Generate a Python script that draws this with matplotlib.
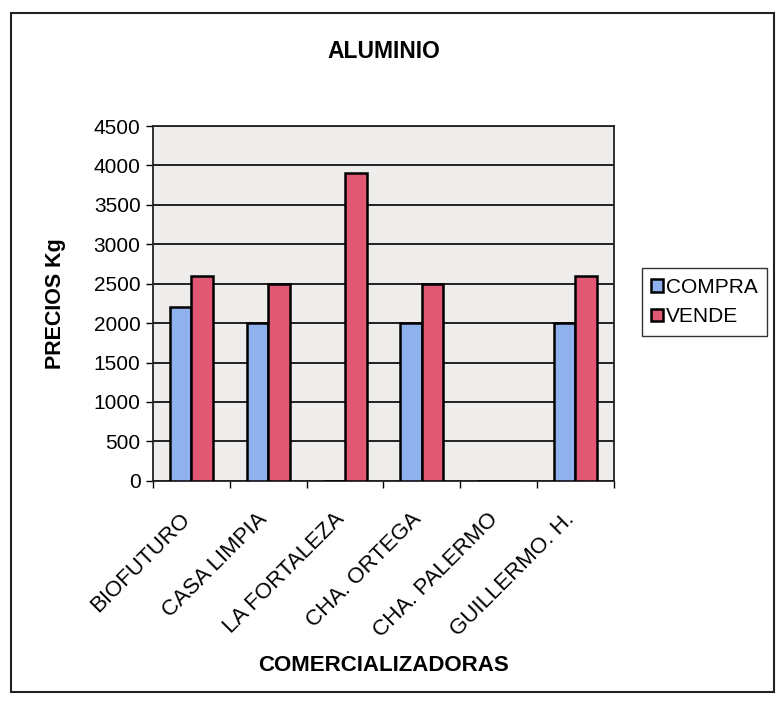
import matplotlib.pyplot as plt
import numpy as np
from matplotlib.patches import Rectangle

categories = ["BIOFUTURO", "CASA LIMPIA", "LA FORTALEZA", "CHA. ORTEGA", "CHA. PALERMO", "GUILLERMO. H."]
compra = [2200, 2000, 0, 2000, 0, 2000]
vende = [2600, 2500, 3900, 2500, 0, 2600]
yticks = [0, 500, 1000, 1500, 2000, 2500, 3000, 3500, 4000, 4500]

plt.rcParams['font.family'] = ['Liberation Sans', 'DejaVu Sans']

fig = plt.figure(figsize=(7.77, 7.04), dpi=100)
fig.patch.set_facecolor('white')
# outer chart border
fig.patches.append(Rectangle((0.014, 0.017), 0.982, 0.965, transform=fig.transFigure,
                             fill=False, edgecolor='#222222', linewidth=1.5))

ax = fig.add_axes([0.197, 0.317, 0.593, 0.504])
ax.set_facecolor('#efedec')

x = np.arange(len(categories))
w = 0.28
ax.bar(x - w / 2, compra, w, color='#8fb2ee', edgecolor='black', linewidth=1.8,
       label='COMPRA', zorder=3)
ax.bar(x + w / 2, vende, w, color='#e05874', edgecolor='black', linewidth=1.8,
       label='VENDE', zorder=3)

ax.set_xlim(-0.5, len(categories) - 0.5)
ax.set_ylim(0, 4500)
ax.set_yticks(yticks)
ax.yaxis.grid(True, color='#111111', linewidth=1.3, zorder=1)
ax.set_axisbelow(True)
ax.tick_params(axis='y', labelsize=15, length=5, width=1, pad=4)

# labels sit a little left of the group centre, like the Excel original
ax.set_xticks(x - 0.15)
ax.set_xticklabels(categories, rotation=45, ha='right', va='top',
                   rotation_mode='anchor', fontsize=16)
ax.set_xticks(np.arange(len(categories) + 1) - 0.5, minor=True)
ax.tick_params(axis='x', which='major', length=0, pad=20)
ax.tick_params(axis='x', which='minor', length=5, width=1)

for s in ax.spines.values():
    s.set_linewidth(1.3)
    s.set_color('#222222')

ax.set_title('ALUMINIO', fontsize=16.5, fontweight='bold', pad=49)
ax.set_ylabel('PRECIOS Kg', fontsize=15.5, fontweight='bold', labelpad=20)
ax.set_xlabel('COMERCIALIZADORAS', fontsize=16, fontweight='bold', labelpad=10)

leg = ax.legend(loc='center left', bbox_to_anchor=(1.061, 0.504), fontsize=15,
                frameon=True, fancybox=False, edgecolor='black',
                handlelength=0.55, handleheight=0.55, handletextpad=0.15,
                borderpad=0.45, labelspacing=0.5, borderaxespad=0)
leg.get_frame().set_linewidth(1.0)

fig.savefig('out.png', dpi=100)
